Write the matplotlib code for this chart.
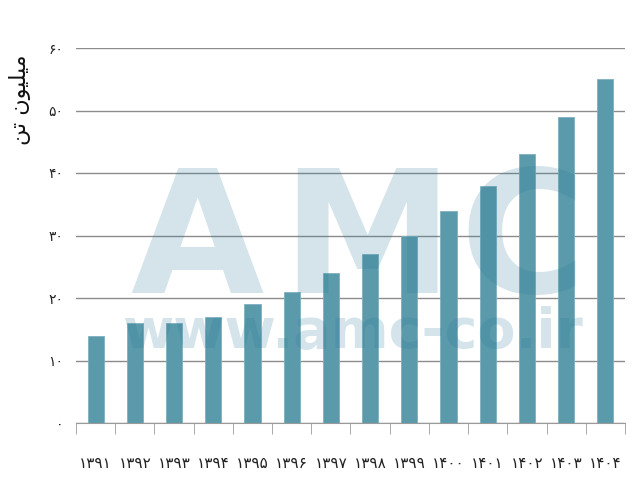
import matplotlib
matplotlib.use("Agg")
import matplotlib.pyplot as plt
import numpy as np

# years 1391..1404 (Persian digits), values in million tonnes
years = ["۱۳۹۱", "۱۳۹۲", "۱۳۹۳", "۱۳۹۴", "۱۳۹۵", "۱۳۹۶", "۱۳۹۷",
         "۱۳۹۸", "۱۳۹۹", "۱۴۰۰", "۱۴۰۱", "۱۴۰۲", "۱۴۰۳", "۱۴۰۴"]
values = [14, 16, 16, 17, 19, 21, 24, 27, 30, 34, 38, 43, 49, 55]
yticks = [0, 10, 20, 30, 40, 50, 60]
ytick_labels = ["۰", "۱۰", "۲۰", "۳۰", "۴۰", "۵۰", "۶۰"]
# "میلیون تن" written with presentation forms in visual order
ylabel = "ﻦﺗ ﻥﻮﻴﻠﻴﻣ"

plt.rcParams["font.family"] = ["DejaVu Sans"]

W, H = 639, 493
fig = plt.figure(figsize=(W / 100, H / 100), dpi=100)
ax = fig.add_axes([76 / W, 70 / H, (625 - 76) / W, (423 - 48) / H])

x = np.arange(len(years))
ax.bar(x, values, width=0.41, color="#5b9aab", edgecolor="#7fb0bf", linewidth=0.6, zorder=2)

ax.set_xlim(-0.5, len(years) - 0.5)
ax.set_ylim(0, 60)
ax.set_yticks(yticks)
ax.set_yticklabels(ytick_labels, fontsize=10, color="#222222")
ax.grid(axis="y", color="#8c8c8c", linewidth=1, zorder=1)
ax.tick_params(axis="y", length=0, pad=9)

ax.set_xticks(x)
ax.set_xticklabels(years, fontsize=11, color="#222222")
ax.set_xticks(np.arange(-0.5, len(years)), minor=True)
ax.tick_params(axis="x", which="major", length=0, pad=24)
ax.tick_params(axis="x", which="minor", length=8, color="#9a9a9a", direction="out")

for s in ["left", "right", "top"]:
    ax.spines[s].set_visible(False)
ax.spines["bottom"].set_color("#9a9a9a")

fig.text(20 / W, 1 - 100 / H, ylabel, rotation=90, ha="center", va="center",
         fontsize=16, color="#111111")

# watermark, letter by letter to match the wide logo
wm = dict(ha="center", va="baseline", fontsize=124, fontweight="bold",
          color="#28789a", alpha=0.2, zorder=5)
for letter, cx in zip("AMC", [197, 367, 523]):
    fig.text(cx / W, 1 - 293 / H, letter, **wm)
fig.text(352 / W, 1 - 348 / H, "www.amc-co.ir", ha="center", va="baseline", fontsize=40,
         fontweight="bold", color="#28789a", alpha=0.2, zorder=5)

fig.savefig("out.png", dpi=100)
